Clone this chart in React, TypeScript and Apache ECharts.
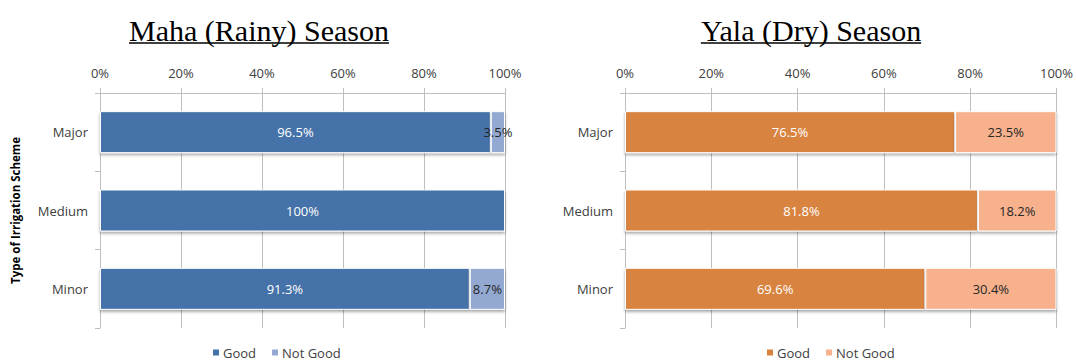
import React, { useEffect, useRef } from "react";
import * as echarts from "echarts";

const categories = ["Major", "Medium", "Minor"];
const mahaGood = [96.5, 100, 91.3];
const mahaNotGood = [3.5, 0, 8.7];
const yalaGood = [76.5, 81.8, 69.6];
const yalaNotGood = [23.5, 18.2, 30.4];
const seriesNames = ["Good", "Not Good"];
const titles = ["Maha (Rainy) Season", "Yala (Dry) Season"];
const yAxisTitle = "Type of Irrigation Scheme";

const FONT = "'Open Sans', Lato, sans-serif";
const TITLE_FONT = "'Liberation Serif', 'Times New Roman', serif";
const GRID_COLOR = "#BFBFBF";
const TEXT_COLOR = "#404040";

function fmt(v: number) {
  if (!v) return "";
  return Number.isInteger(v) ? v + "%" : v.toFixed(1) + "%";
}

function measure(text: string, font: string) {
  const c = document.createElement("canvas");
  const ctx = c.getContext("2d");
  if (!ctx) return text.length * 13;
  ctx.font = font;
  return ctx.measureText(text).width;
}

export default function App() {
  const ref = useRef<HTMLDivElement>(null);
  useEffect(() => {
    if (!ref.current) return;
    const chart = echarts.init(ref.current, undefined, { renderer: "svg" });
    const grids = [
      { left: 100, right: 571, top: 93, bottom: 36 },
      { left: 625, right: 19, top: 93, bottom: 36 },
    ];
    const xAxes = grids.map((_, i) => ({
      type: "value",
      gridIndex: i,
      position: "top",
      min: 0,
      max: 100,
      interval: 20,
      axisLabel: { formatter: "{value}%", color: TEXT_COLOR, fontSize: 13, fontFamily: FONT, margin: 14 },
      axisLine: { show: true, lineStyle: { color: GRID_COLOR } },
      axisTick: { show: true, length: 5, lineStyle: { color: GRID_COLOR } },
      splitLine: { show: true, lineStyle: { color: GRID_COLOR } },
    }));
    const yAxes = grids.map((_, i) => ({
      type: "category",
      gridIndex: i,
      data: categories,
      inverse: true,
      axisLabel: { color: TEXT_COLOR, fontSize: 13, fontFamily: FONT, margin: 12 },
      axisLine: { show: true, lineStyle: { color: GRID_COLOR } },
      axisTick: { show: true, length: 5, lineStyle: { color: GRID_COLOR } },
      name: i === 0 ? yAxisTitle : "",
      nameLocation: "middle",
      nameRotate: 90,
      nameGap: 79,
      nameTextStyle: { fontWeight: "bold", fontSize: 11.5, color: "#000", fontFamily: FONT },
    }));
    const colors = [
      ["#4472A8", "#93A9D1"],
      ["#D9833F", "#F7B28D"],
    ];
    const data = [
      [mahaGood, mahaNotGood],
      [yalaGood, yalaNotGood],
    ];
    const series: any[] = [];
    for (let g = 0; g < 2; g++) {
      for (let s = 0; s < 2; s++) {
        series.push({
          type: "bar",
          name: seriesNames[s],
          xAxisIndex: g,
          yAxisIndex: g,
          stack: "s" + g,
          barWidth: 42,
          data: data[g][s],
          itemStyle: {
            color: colors[g][s],
            borderColor: "#fff",
            borderWidth: 1,
            shadowColor: "rgba(0,0,0,0.35)",
            shadowBlur: 3,
            shadowOffsetY: 2,
          },
          label: {
            show: true,
            position: "inside",
            formatter: (p: any) => fmt(p.value),
            color: s === 0 ? "#fff" : "#262626",
            fontSize: 13,
            fontFamily: FONT,
          },
        });
      }
    }
    const legendLefts = [206, 760];
    const legends = legendLefts.map((l, g) => ({
      left: l,
      top: 341,
      itemWidth: 8,
      itemHeight: 8,
      itemGap: 14,
      icon: "rect",
      textStyle: { fontSize: 13, color: TEXT_COLOR, fontFamily: FONT, padding: [0, 0, 0, -2] },
      data: seriesNames.map((n, s) => ({ name: n, itemStyle: { color: colors[g][s] } })),
      selectedMode: false,
    }));
    const titleFont = "30px " + TITLE_FONT;
    const centers = [259, 811];
    const graphic: any[] = [];
    titles.forEach((t, i) => {
      const w = measure(t, titleFont);
      graphic.push({
        type: "text",
        x: centers[i],
        y: 30,
        style: {
          text: t,
          font: titleFont,
          fill: "#000",
          align: "center",
          verticalAlign: "middle",
        },
      });
      graphic.push({
        type: "line",
        shape: { x1: centers[i] - w / 2, y1: 43, x2: centers[i] + w / 2, y2: 43 },
        style: { stroke: "#000", lineWidth: 1.5 },
      });
    });
    chart.setOption({
      animation: false,
      grid: grids,
      xAxis: xAxes,
      yAxis: yAxes,
      series,
      legend: legends,
      graphic,
    });
    return () => chart.dispose();
  }, []);
  return (
    <div
      ref={ref}
      style={{ position: "fixed", left: 0, top: 0, width: 1076, height: 364, background: "#fff" }}
    />
  );
}
